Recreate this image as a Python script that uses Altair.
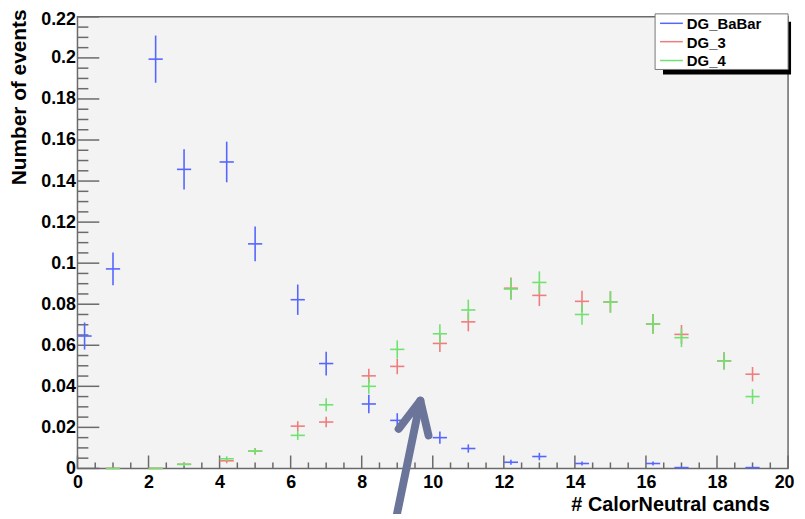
import altair as alt
import pandas as pd
import numpy as np

# ---------------- data ----------------
x_centers = [0.2, 1.0, 2.2, 3.0, 4.2, 5.0, 6.2, 7.0, 8.2, 9.0,
             10.2, 11.0, 12.2, 13.0, 14.2, 15.0, 16.2, 17.0, 18.2, 19.0]

babar_y = [0.0645, 0.0972, 0.1994, 0.1457, 0.1493, 0.1094, 0.0822, 0.0511, 0.0314, 0.0234,
           0.0150, 0.0097, 0.0030, 0.0058, 0.0024, None, 0.0024, 0.0004, None, 0.0004]
babar_err = [0.0066, 0.0080, 0.0115, 0.0098, 0.0099, 0.0085, 0.0074, 0.0058, 0.0045, 0.0035,
             0.0030, 0.0020, 0.0012, 0.0018, 0.0010, None, 0.0010, 0.0004, None, 0.0004]

dg3_y = [None, 0.0, 0.0, 0.0020, 0.0037, 0.0084, 0.0206, 0.0226, 0.0451, 0.0497,
         0.0609, 0.0714, 0.0878, 0.0843, 0.0814, 0.0811, 0.0704, 0.0653, 0.0524, 0.0459]
dg3_err = [None, 0.0, 0.0, 0.0008, 0.0012, 0.0016, 0.0024, 0.0026, 0.0034, 0.0038,
           0.0042, 0.0046, 0.0052, 0.0052, 0.0052, 0.0052, 0.0048, 0.0046, 0.0042, 0.0035]

dg4_y = [None, 0.0, 0.0, 0.0020, 0.0047, 0.0084, 0.0161, 0.0310, 0.0400, 0.0580,
         0.0656, 0.0772, 0.0874, 0.0906, 0.0750, 0.0811, 0.0704, 0.0637, 0.0524, 0.0350]
dg4_err = [None, 0.0, 0.0, 0.0008, 0.0012, 0.0016, 0.0022, 0.0032, 0.0036, 0.0044,
           0.0046, 0.0050, 0.0053, 0.0054, 0.0050, 0.0052, 0.0048, 0.0046, 0.0042, 0.0036]

series_names = ["DG_BaBar", "DG_3", "DG_4"]
series_colors = ["#5566ff", "#ef7d7d", "#6fe26f"]
bin_half_width = 0.2

y_major = [0, 0.02, 0.04, 0.06, 0.08, 0.1, 0.12, 0.14, 0.16, 0.18, 0.2, 0.22]
x_major = [0, 2, 4, 6, 8, 10, 12, 14, 16, 18, 20]

x_title = "# CalorNeutral cands"
y_title = "Number of events"

# annotation arrow (data units)
arrow_x = [8.9, 9.65, 9.04, 9.65, 9.88]
arrow_y = [-0.030, 0.033, 0.0193, 0.033, 0.0161]
arrow_seg = ["shaft", "shaft", "head", "head", "head"]

# ---------------- build ----------------
W, H = 716, 455
FONT = "Liberation Sans"

xs = alt.Scale(domain=[0, 20], nice=False, zero=False)
ys = alt.Scale(domain=[0, 0.22], nice=False, zero=False)

x_axis = alt.Axis(values=x_major, format="~g", ticks=False, domain=False, grid=False,
                  labelFont=FONT, labelFontWeight="bold", labelFontSize=18, labelColor="black",
                  labelPadding=5, labelFlush=False, labelOverlap=False,
                  labelAlign=alt.ExprRef(expr="datum.value == 20 ? 'right' : 'center'"),
                  labelOffset=alt.ExprRef(expr="datum.value == 20 ? 6 : 0"),
                  titleFont=FONT, titleFontWeight="bold", titleFontSize=20, titleColor="black",
                  titleX=697, titleY=42, titleAlign="right", titleBaseline="alphabetic",
                  titleAnchor="end")
y_axis = alt.Axis(values=y_major, format="~g", ticks=False, domain=False, grid=False,
                  labelFont=FONT, labelFontWeight="bold", labelFontSize=18, labelColor="black",
                  labelPadding=2, labelFlush=False, labelOverlap=False,
                  labelOffset=alt.ExprRef(expr="datum.value > 0.21 ? 3 : 0"),
                  titleFont=FONT, titleFontWeight="bold", titleFontSize=21, titleColor="black",
                  titleX=-58, titleY=-8, titleAngle=270, titleAlign="right",
                  titleBaseline="middle", titleAnchor="end")


def X(field):
    return alt.X(field, type="quantitative", scale=xs, axis=x_axis, title=x_title)


def Y(field):
    return alt.Y(field, type="quantitative", scale=ys, axis=y_axis, title=y_title)


layers = []

# inward ticks (ROOT style)
y_minor = [round(v, 4) for v in np.arange(0, 0.2201, 0.005) if round(v / 0.02, 4) % 1 != 0]
x_minor = [round(v, 2) for v in np.arange(0, 20.01, 0.5) if round(v, 2) % 2 != 0]

tick_col = "#6a6a6a"
layers.append(alt.Chart(pd.DataFrame({"v": y_major})).mark_rule(color=tick_col, strokeWidth=1.5).encode(
    y=Y("v"), x=alt.value(0), x2=alt.value(22)))
layers.append(alt.Chart(pd.DataFrame({"v": y_minor})).mark_rule(color=tick_col, strokeWidth=1.5).encode(
    y=Y("v"), x=alt.value(0), x2=alt.value(11)))
layers.append(alt.Chart(pd.DataFrame({"v": x_major})).mark_rule(color=tick_col, strokeWidth=1.5).encode(
    x=X("v"), y=alt.value(H), y2=alt.value(H - 13)))
layers.append(alt.Chart(pd.DataFrame({"v": x_minor})).mark_rule(color=tick_col, strokeWidth=1.5).encode(
    x=X("v"), y=alt.value(H), y2=alt.value(H - 6)))

# error-bar crosses
all_y = [babar_y, dg3_y, dg4_y]
all_e = [babar_err, dg3_err, dg4_err]
for name, col, yv, ev in zip(series_names, series_colors, all_y, all_e):
    rows = [(x, y, e) for x, y, e in zip(x_centers, yv, ev) if y is not None]
    df = pd.DataFrame(rows, columns=["x", "y", "err"])
    df["ylo"] = df["y"] - df["err"]
    df["yhi"] = df["y"] + df["err"]
    df["xlo"] = df["x"] - bin_half_width
    df["xhi"] = df["x"] + bin_half_width
    base = alt.Chart(df)
    layers.append(base.mark_rule(color=col, strokeWidth=1.6).encode(
        x=X("x"), y=Y("ylo"), y2="yhi:Q"))
    layers.append(base.mark_rule(color=col, strokeWidth=1.6).encode(
        x=X("xlo"), x2="xhi:Q", y=Y("y")))

# legend (manual, ROOT style with shadow)
one = pd.DataFrame({"a": [0]})
layers.append(alt.Chart(one).mark_rect(color="black").encode(
    x=alt.value(590), x2=alt.value(719), y=alt.value(5), y2=alt.value(58)))
layers.append(alt.Chart(one).mark_rect(fill="white", stroke="#777777", strokeWidth=1).encode(
    x=alt.value(582), x2=alt.value(716), y=alt.value(-3), y2=alt.value(53)))
row_y = [6.5, 25, 44]
for name, col, ry in zip(series_names, series_colors, row_y):
    layers.append(alt.Chart(one).mark_rule(color=col, strokeWidth=1.5).encode(
        x=alt.value(587), x2=alt.value(610), y=alt.value(ry)))
    layers.append(alt.Chart(one).mark_text(font=FONT, fontWeight="bold", fontSize=15, align="left",
                                           baseline="middle", color="black").encode(
        x=alt.value(614), y=alt.value(ry + 1), text=alt.value(name)))

# annotation arrow
arrow_df = pd.DataFrame({"x": arrow_x, "y": arrow_y, "seg": arrow_seg, "o": list(range(len(arrow_x)))})
layers.append(alt.Chart(arrow_df).mark_line(color="#6b7599", strokeWidth=8, strokeCap="round",
                                            strokeJoin="round", clip=False).encode(
    x=X("x"), y=Y("y"), detail="seg:N", order="o:Q"))

chart = alt.layer(*layers).properties(
    width=W, height=H,
    autosize=alt.AutoSizeParams(type="none"),
    padding={"left": 70, "top": 7, "right": 9, "bottom": 44},
    background="white",
).configure_view(fill="#f3f3f3", stroke="#6a6a6a", strokeWidth=1.5)

chart.save("out.html", embed_options={"renderer": "svg", "actions": False})
